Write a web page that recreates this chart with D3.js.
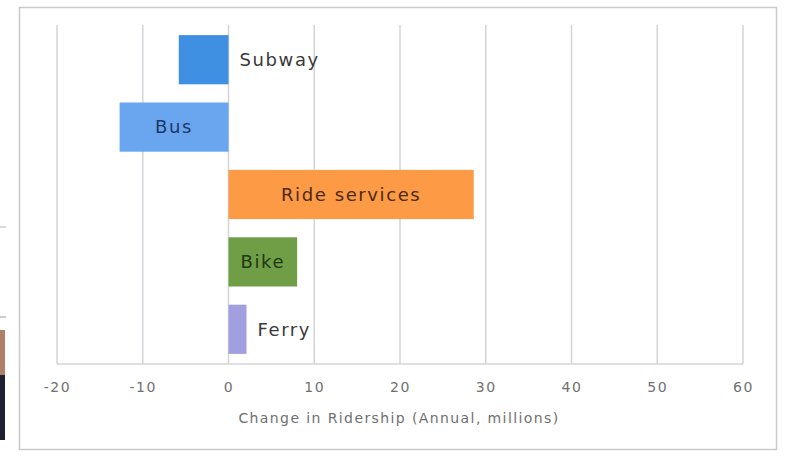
<!DOCTYPE html>
<html>
<head>
<meta charset="utf-8">
<script src="https://cdn.jsdelivr.net/npm/d3@7"></script>
<style>
  html, body { margin: 0; padding: 0; background: #ffffff; }
  svg { display: block; }
</style>
</head>
<body>
<svg id="chart" width="787" height="457"></svg>
<script>
// ---- data ----
const categories = ["Subway", "Bus", "Ride services", "Bike", "Ferry"];
const values = [-5.8, -12.7, 28.6, 8.0, 2.1];
const barColors = ["#3f8fe3", "#6aa6ef", "#fd9a46", "#6f9e46", "#a19fe0"];
const labelColors = ["#3a3a3a", "#1d3866", "#4a2a12", "#20380f", "#3a3a3a"];
const labelInside = [false, true, true, true, false];
const tickValues = [-20, -10, 0, 10, 20, 30, 40, 50, 60];
const axisTitle = "Change in Ridership (Annual, millions)";

// ---- layout ----
const svg = d3.select("#chart");
const FONT = "DejaVu Sans, Verdana, sans-serif";

// left-edge photo remnants of the source slide
svg.append("line").attr("x1", 0).attr("x2", 6).attr("y1", 227).attr("y2", 227)
  .attr("stroke", "#cfcfcf").attr("stroke-width", 1.5);
svg.append("line").attr("x1", 0).attr("x2", 6).attr("y1", 317).attr("y2", 317)
  .attr("stroke", "#bdbdbd").attr("stroke-width", 1.5);
svg.append("rect").attr("x", 0).attr("y", 330).attr("width", 5).attr("height", 45).attr("fill", "#b07f6a");
svg.append("rect").attr("x", 0).attr("y", 375).attr("width", 5).attr("height", 65).attr("fill", "#1f2130");

// chart frame
svg.append("rect").attr("x", 19.5).attr("y", 7.5).attr("width", 757).attr("height", 442)
  .attr("fill", "#ffffff").attr("stroke", "#c9c9cc").attr("stroke-width", 1.5);

const x = d3.scaleLinear().domain([-20, 60]).range([57, 743]);
const y = d3.scaleBand().domain(categories).range([25, 364]).paddingInner(0.27).paddingOuter(0.15);

// gridlines
svg.append("g").selectAll("line").data(tickValues).join("line")
  .attr("x1", d => x(d)).attr("x2", d => x(d))
  .attr("y1", 25).attr("y2", 364)
  .attr("stroke", "#d4d4d8").attr("stroke-width", 1.5);

// bottom baseline
svg.append("line").attr("x1", x(-20)).attr("x2", x(60)).attr("y1", 364).attr("y2", 364)
  .attr("stroke", "#d4d4d8").attr("stroke-width", 1.5);

// bars
const data = categories.map((c, i) => ({ c, v: values[i], i }));
svg.append("g").selectAll("rect").data(data).join("rect")
  .attr("x", d => x(Math.min(0, d.v)))
  .attr("width", d => Math.abs(x(d.v) - x(0)))
  .attr("y", d => y(d.c))
  .attr("height", y.bandwidth())
  .attr("fill", d => barColors[d.i]);

// bar labels
svg.append("g").selectAll("text").data(data).join("text")
  .attr("x", d => labelInside[d.i] ? (x(d.v) + x(0)) / 2 : x(Math.max(0, d.v)) + 11)
  .attr("y", d => y(d.c) + y.bandwidth() / 2)
  .attr("dy", "0.35em")
  .attr("text-anchor", d => labelInside[d.i] ? "middle" : "start")
  .attr("font-family", FONT)
  .attr("font-size", 18)
  .attr("letter-spacing", 1.6)
  .attr("fill", d => labelColors[d.i])
  .text(d => d.c);

// x axis tick labels
const axis = d3.axisBottom(x).tickValues(tickValues).tickSize(0).tickPadding(0)
  .tickFormat(d => String(d));
const gAxis = svg.append("g").attr("transform", "translate(0,382)").call(axis);
gAxis.select(".domain").remove();
gAxis.selectAll("text")
  .attr("font-family", FONT)
  .attr("font-size", 14)
  .attr("letter-spacing", 1.6)
  .attr("fill", "#707070");

// axis title
svg.append("text")
  .attr("x", 399).attr("y", 423)
  .attr("text-anchor", "middle")
  .attr("font-family", FONT)
  .attr("font-size", 14)
  .attr("letter-spacing", 1.4)
  .attr("fill", "#707070")
  .text(axisTitle);
</script>
</body>
</html>
